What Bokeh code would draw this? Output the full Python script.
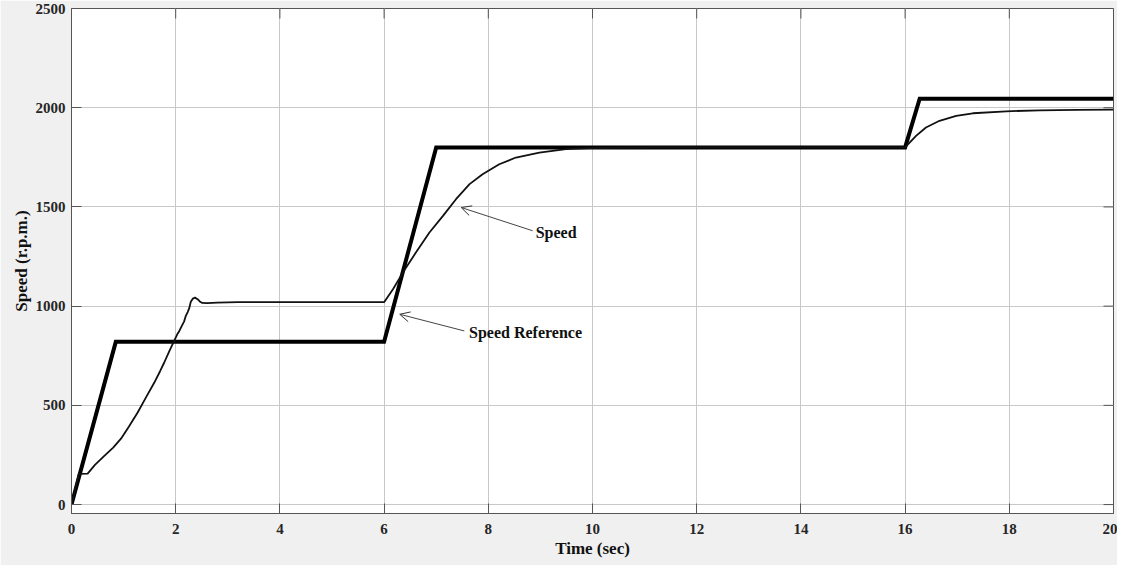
import math
from bokeh.plotting import figure
from bokeh.models import Range1d, FixedTicker, Arrow, OpenHead, Label
from bokeh.embed import file_html
from bokeh.resources import INLINE

# ---- data ----
ref_t = [0, 0.85, 6.0, 7.0, 16.0, 16.28, 20]
ref_v = [0, 820, 820, 1800, 1800, 2045, 2045]

speed_t = [0, 0.14, 0.31, 0.45, 0.63, 0.8, 0.95, 1.1, 1.27, 1.43, 1.59, 1.7, 1.78,
           1.88, 1.97, 2.03, 2.07, 2.12, 2.16, 2.19, 2.23, 2.26, 2.29, 2.33, 2.37,
           2.42, 2.47, 2.51, 2.6, 2.8, 3.2, 6.0, 6.17, 6.36, 6.61, 6.87, 7.13,
           7.38, 7.64, 7.89, 8.21, 8.53, 8.98, 9.49, 9.94, 10.5, 11.2, 16.0,
           16.21, 16.4, 16.66, 16.98, 17.3, 17.94, 18.58, 19.3, 20]
speed_v = [0, 155, 156, 200, 245, 287, 332, 392, 464, 540, 615, 672, 716,
           775, 825, 858, 875, 902, 922, 948, 970, 990, 1022, 1038, 1043,
           1035, 1022, 1016, 1015, 1018, 1020, 1020, 1085, 1169, 1270, 1371, 1455,
           1539, 1615, 1665, 1715, 1749, 1774, 1791, 1796, 1799, 1800, 1800,
           1858, 1900, 1934, 1959, 1972, 1982, 1987, 1989, 1990]

x_ticks = [0, 2, 4, 6, 8, 10, 12, 14, 16, 18, 20]
y_ticks = [0, 500, 1000, 1500, 2000, 2500]

ann_text = ["Speed", "Speed Reference"]
ann_text_xy = [(8.91, 1371), (7.63, 867)]
ann_tip_xy = [(7.48, 1497), (6.30, 959)]
ann_tail_xy = [(8.85, 1380), (7.54, 875)]

X_MIN, X_MAX = 0, 20
Y_MIN, Y_MAX = -45, 2500

FONT = "Liberation Serif"
AX = "#555555"

p = figure(width=1117, height=565, output_backend="svg", toolbar_location=None,
           x_range=Range1d(X_MIN, X_MAX), y_range=Range1d(Y_MIN, Y_MAX),
           min_border_left=71, min_border_right=4, min_border_top=8,
           min_border_bottom=52)
p.border_fill_color = "#f0f0f0"
p.background_fill_color = "white"
p.outline_line_color = AX
p.outline_line_width = 1

for ax, ticks in ((p.xaxis[0], x_ticks), (p.yaxis[0], y_ticks)):
    ax.ticker = FixedTicker(ticks=ticks)
    ax.major_tick_in = 10
    ax.major_tick_out = 0
    ax.minor_tick_line_color = None
    ax.axis_line_color = AX
    ax.major_tick_line_color = AX
    ax.major_label_text_font = FONT
    ax.major_label_text_font_style = "bold"
    ax.major_label_text_font_size = "15px"
    ax.major_label_text_color = "#262626"
    ax.axis_label_text_font = FONT
    ax.axis_label_text_font_style = "bold"
    ax.axis_label_text_font_size = "17px"
    ax.axis_label_text_color = "#111111"

p.xaxis.axis_label = "Time (sec)"
p.yaxis.axis_label = "Speed (r.p.m.)"
p.xaxis.major_label_standoff = 10
p.xaxis.axis_label_standoff = 2
p.yaxis.major_label_standoff = 6
p.yaxis.axis_label_standoff = 2

p.xgrid.grid_line_color = "#c8c8c8"
p.ygrid.grid_line_color = "#c8c8c8"
p.xgrid.ticker = FixedTicker(ticks=x_ticks)
p.ygrid.ticker = FixedTicker(ticks=y_ticks)

# mirrored inward ticks on top and right edges (box on)
p.ray(x=x_ticks, y=[Y_MAX] * len(x_ticks), length=10, length_units="screen",
      angle=-math.pi / 2, line_color=AX, line_width=1)
p.ray(x=[X_MAX] * len(y_ticks), y=y_ticks, length=10, length_units="screen",
      angle=math.pi, line_color=AX, line_width=1)

p.line(ref_t, ref_v, line_color="black", line_width=4, line_join="miter")
p.line(speed_t, speed_v, line_color="#111111", line_width=1.8)

for txt, (tx, ty), (hx, hy), (sx, sy) in zip(ann_text, ann_text_xy, ann_tip_xy, ann_tail_xy):
    p.add_layout(Arrow(end=OpenHead(size=10, line_color="#333333", line_width=1),
                       x_start=sx, y_start=sy, x_end=hx, y_end=hy,
                       line_color="#444444", line_width=1))
    p.add_layout(Label(x=tx, y=ty, text=txt, text_baseline="middle", text_align="left",
                       text_font=FONT, text_font_style="bold", text_font_size="16px",
                       text_color="#111111"))

open("out.html", "w").write(file_html(p, INLINE))
